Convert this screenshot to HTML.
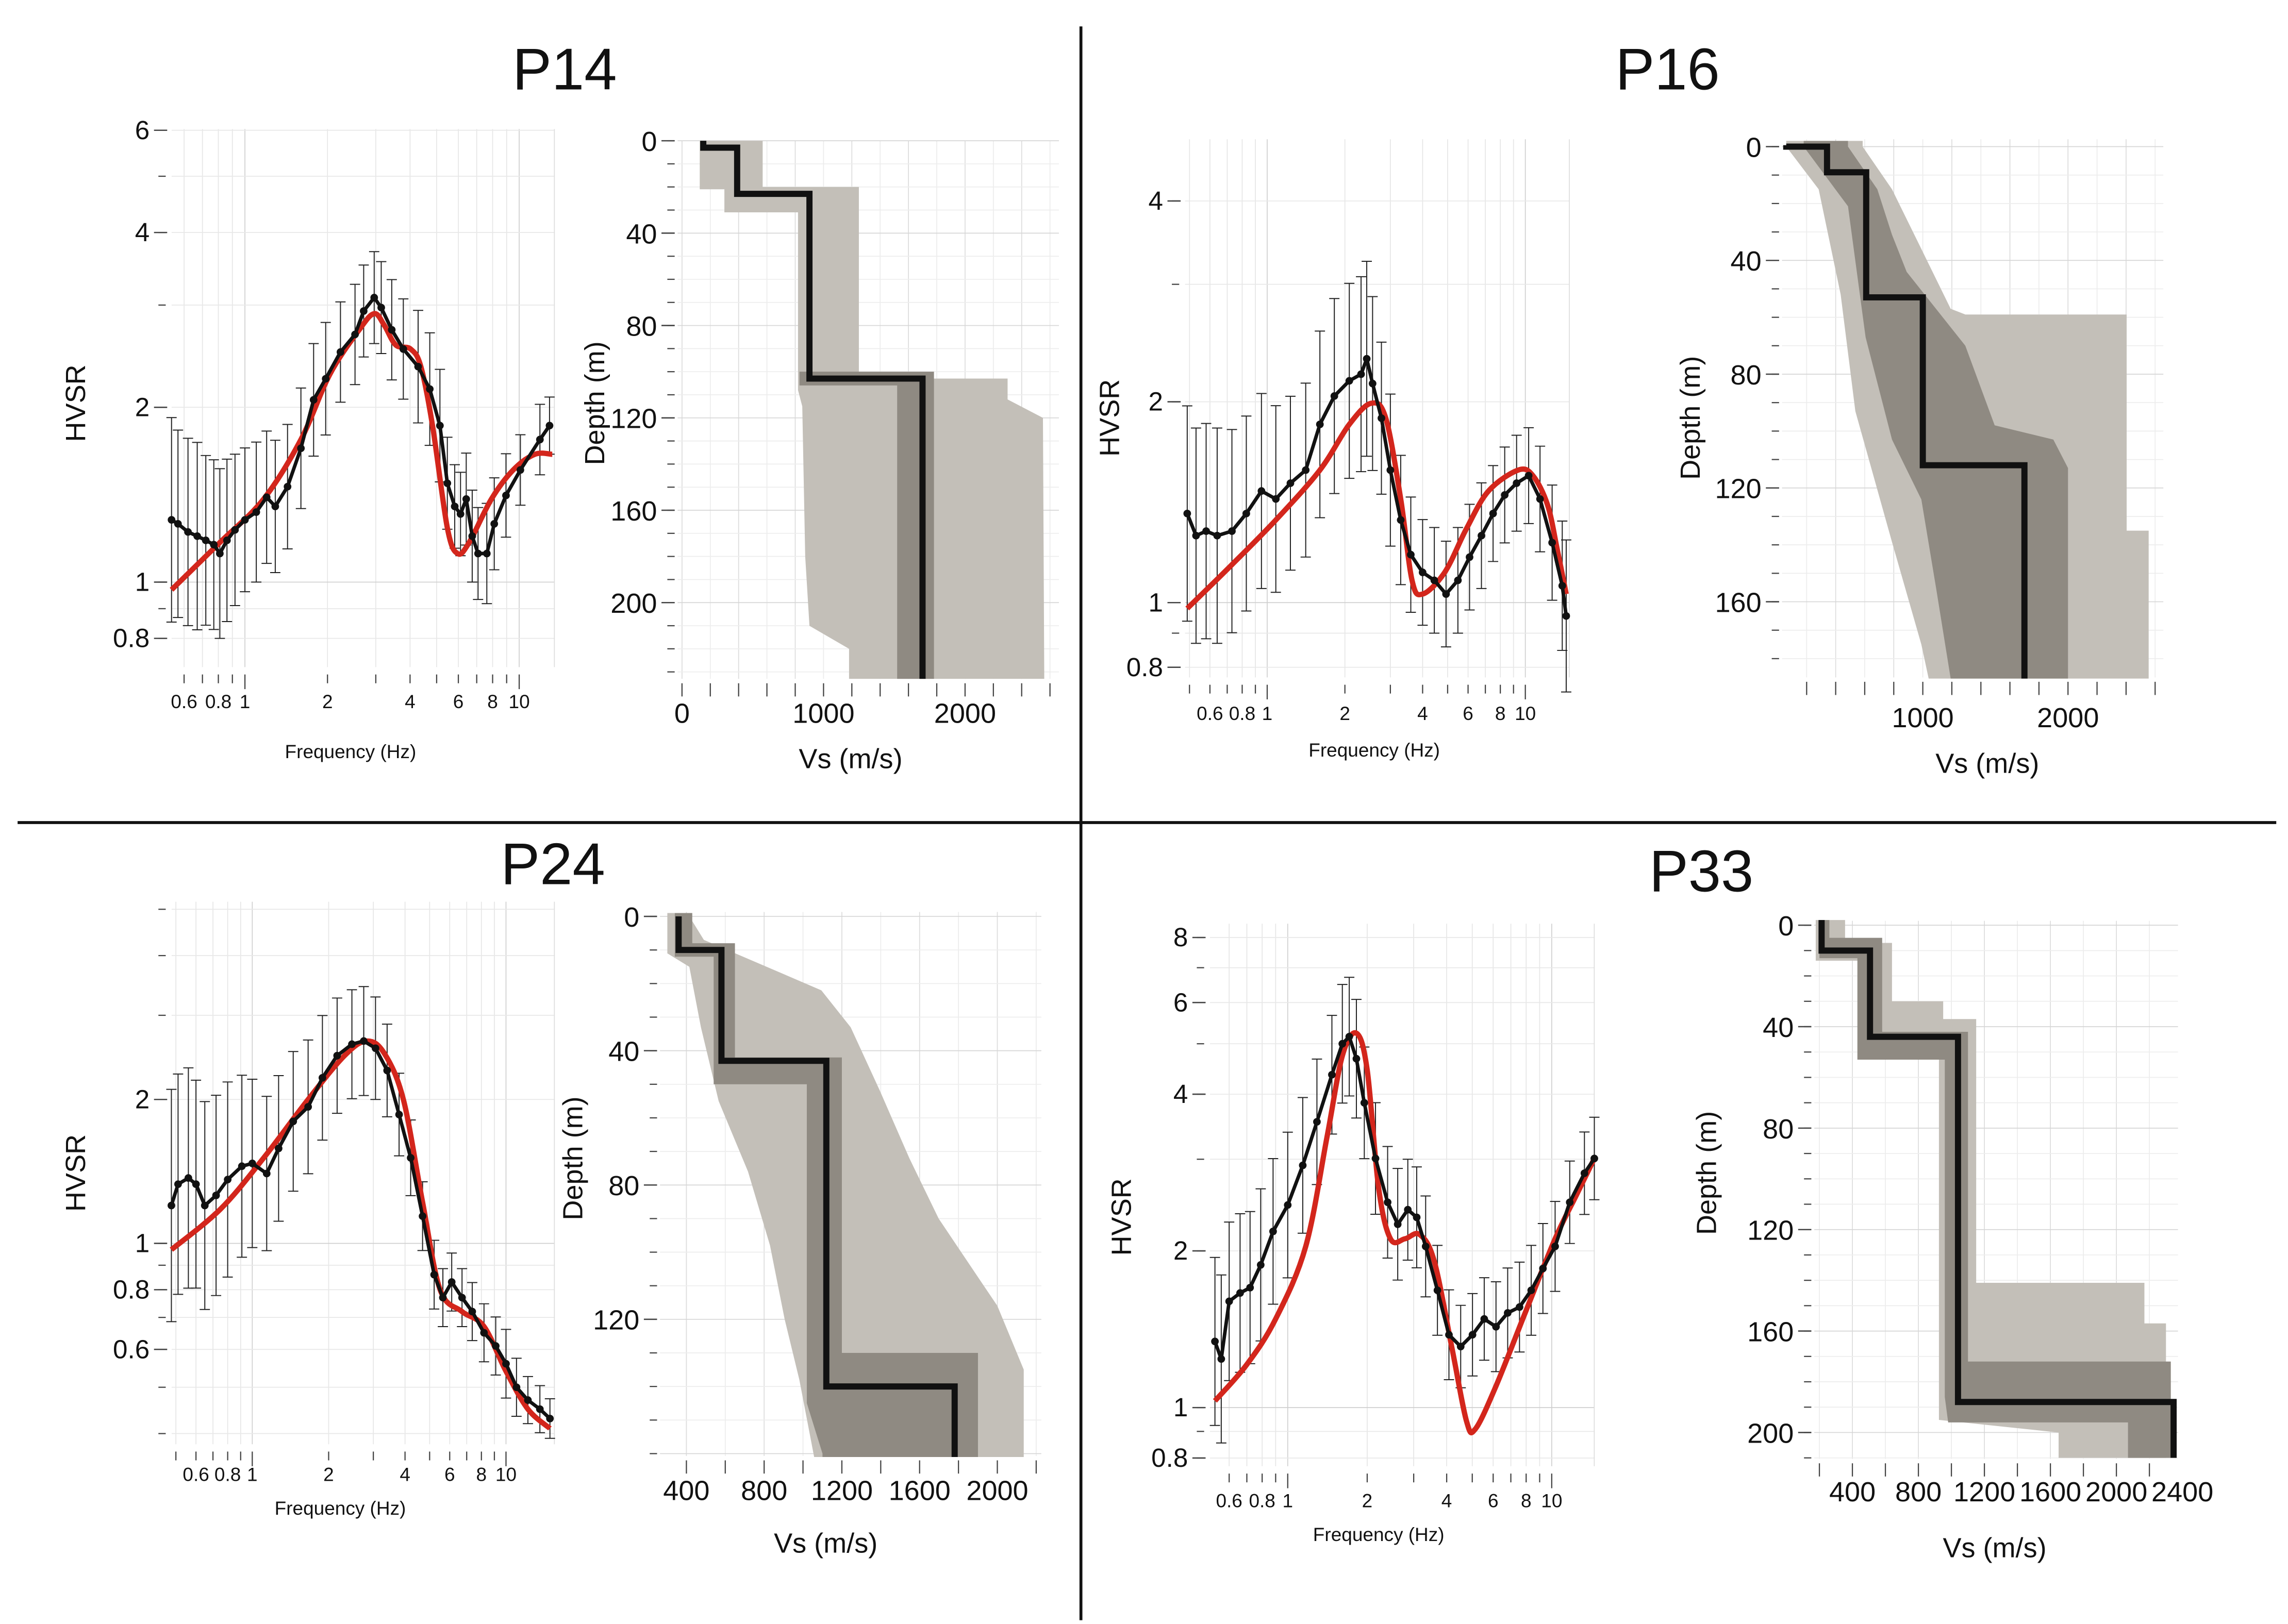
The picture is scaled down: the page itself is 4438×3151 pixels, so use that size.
<!DOCTYPE html>
<html><head><meta charset="utf-8">
<style>
html,body{margin:0;padding:0;background:#fff;}
svg{display:block;}
text{font-family:"Liberation Sans",sans-serif;fill:#111;}
</style></head>
<body>
<svg id="fig" xmlns="http://www.w3.org/2000/svg" width="4438" height="3151" viewBox="0 0 1560 1107.6" preserveAspectRatio="none">
<rect x="0" y="0" width="1560" height="1108" fill="#fff"/>
<line x1="737" y1="18" x2="737" y2="1105" stroke="#111" stroke-width="2"/>
<line x1="12" y1="561" x2="1552" y2="561" stroke="#111" stroke-width="2"/>
<text x="385" y="61" font-size="40" text-anchor="middle">P14</text>
<text x="1137" y="61" font-size="40" text-anchor="middle">P16</text>
<text x="377" y="603" font-size="40" text-anchor="middle">P24</text>
<text x="1160" y="608" font-size="40" text-anchor="middle">P33</text>
<g id="charts"></g>
</svg>
<script>
// ---------- DATA ----------
const freqTicks = [0.6, 0.8, 1, 2, 4, 6, 8, 10];

const p14Freq = [0.54,0.57,0.62,0.67,0.72,0.77,0.81,0.86,0.92,1,1.10,1.20,1.29,1.43,1.60,1.78,1.97,2.23,2.52,2.71,2.96,3.14,3.43,3.78,4.28,4.72,5.14,5.47,5.82,6.11,6.41,6.74,7.08,7.62,8.11,8.95,10.1,11.9,12.9];
const p14Hvsr = [1.28,1.26,1.22,1.20,1.18,1.16,1.12,1.18,1.23,1.28,1.32,1.40,1.35,1.46,1.70,2.06,2.24,2.49,2.67,2.93,3.09,2.97,2.72,2.52,2.35,2.15,1.86,1.48,1.35,1.31,1.39,1.20,1.12,1.12,1.26,1.41,1.56,1.76,1.86];
const p14Err = [1.5,1.45,1.45,1.45,1.4,1.4,1.4,1.38,1.35,1.33,1.32,1.3,1.3,1.28,1.27,1.25,1.25,1.22,1.22,1.2,1.2,1.2,1.22,1.22,1.25,1.25,1.25,1.2,1.18,1.18,1.2,1.2,1.2,1.22,1.2,1.18,1.15,1.15,1.12];
const p14RedFreq = [0.54,0.81,1.17,1.60,2.04,2.61,2.96,3.22,3.55,4.02,4.38,4.83,5.47,5.96,6.57,7.92,9.51,11.4,13.2];
const p14RedHvsr = [0.97,1.17,1.39,1.76,2.28,2.72,2.90,2.77,2.56,2.52,2.35,1.86,1.24,1.12,1.17,1.39,1.56,1.66,1.66];
const p14YTicks = [0.8,1,2,4,6];
const p14VsTicks = [0,1000,2000];
const p14DepthTicks = [0,40,80,120,160,200];
const p14LayerVs = [150,390,900,1700];
const p14LayerTop = [0,3,23,103];
const p14LayerBottom = 233;
const p14LightLeft = [[125,0],[125,21],[300,21],[300,31],[820,31],[820,108],[850,115],[870,180],[900,210],[1180,220],[1180,233]];
const p14LightRight = [[570,0],[570,20],[1250,20],[1250,103],[2300,103],[2300,112],[2550,120],[2560,233]];
const p14DarkLeft = [[830,100],[830,106],[1520,106],[1520,233]];
const p14DarkRight = [[1000,100],[1780,100],[1780,233]];

const p16Freq = [0.49,0.53,0.58,0.64,0.73,0.83,0.95,1.08,1.23,1.41,1.60,1.82,2.08,2.31,2.43,2.56,2.77,3.00,3.29,3.60,4.00,4.44,4.93,5.48,6.08,6.76,7.50,8.32,9.25,10.3,11.4,12.7,13.9,14.4];
const p16Hvsr = [1.36,1.26,1.28,1.26,1.28,1.36,1.47,1.43,1.51,1.58,1.85,2.04,2.15,2.20,2.32,2.13,1.89,1.58,1.33,1.18,1.11,1.08,1.03,1.08,1.17,1.26,1.36,1.45,1.51,1.55,1.43,1.23,1.06,0.955];
const p16Err = [1.45,1.45,1.45,1.45,1.42,1.4,1.4,1.38,1.35,1.35,1.38,1.4,1.4,1.4,1.4,1.35,1.3,1.3,1.25,1.22,1.2,1.2,1.2,1.2,1.2,1.2,1.18,1.18,1.18,1.18,1.2,1.22,1.25,1.3];
const p16RedFreq = [0.49,0.73,1.08,1.60,2.08,2.53,2.88,3.29,3.64,4.00,4.87,5.91,7.20,9.38,10.7,12.2,13.3,14.4];
const p16RedHvsr = [0.98,1.14,1.33,1.58,1.85,1.99,1.89,1.43,1.08,1.03,1.11,1.29,1.47,1.58,1.55,1.40,1.20,1.03];
const p16YTicks = [0.8,1,2,4];
const p16VsTicks = [1000,2000];
const p16DepthTicks = [0,40,80,120,160];
const p16LayerVs = [60,340,610,1000,1700];
const p16LayerTop = [-0.5,0,9,53,112];
const p16LayerBottom = 187;
const p16LightLeft = [[60,-2],[60,0],[283,15],[434,52],[535,93],[788,139],[990,175],[1040,187]];
const p16LightRight = [[586,-2],[586,0],[788,15],[990,36],[1192,57],[1293,59],[2404,59],[2404,135],[2556,135],[2556,187]];
const p16DarkLeft = [[180,-2],[180,0],[485,21],[606,67],[788,103],[990,124],[1091,155],[1192,187]];
const p16DarkRight = [[485,-2],[485,0],[687,15],[788,31],[889,44],[1293,70],[1495,98],[1899,103],[2000,113],[2000,187]];

const p24Freq = [0.48,0.51,0.56,0.60,0.65,0.72,0.80,0.91,1,1.14,1.27,1.45,1.66,1.89,2.16,2.47,2.75,3.06,3.40,3.79,4.21,4.69,5.21,5.64,6.11,6.71,7.36,8.19,9.11,10.0,11.0,12.2,13.6,14.9];
const p24Hvsr = [1.20,1.33,1.37,1.33,1.20,1.26,1.36,1.45,1.47,1.40,1.58,1.80,1.93,2.22,2.47,2.61,2.65,2.56,2.30,1.86,1.51,1.14,0.86,0.77,0.83,0.77,0.72,0.65,0.61,0.56,0.50,0.47,0.45,0.43];
const p24Err = [1.75,1.7,1.7,1.65,1.65,1.62,1.6,1.55,1.5,1.45,1.42,1.4,1.38,1.35,1.32,1.3,1.3,1.28,1.25,1.22,1.2,1.18,1.18,1.15,1.15,1.15,1.15,1.15,1.15,1.18,1.15,1.12,1.12,1.1];
const p24RedFreq = [0.48,0.75,1.11,1.66,2.31,2.82,3.31,3.94,4.69,5.50,6.71,8.19,10.0,12.2,14.9];
const p24RedHvsr = [0.97,1.18,1.51,2.00,2.47,2.65,2.50,2.00,1.22,0.80,0.72,0.67,0.54,0.45,0.41];
const p24YTicks = [0.6,0.8,1,2];
const p24VsTicks = [400,800,1200,1600,2000];
const p24DepthTicks = [0,40,80,120];
const p24LayerVs = [360,580,1120,1780];
const p24LayerTop = [0,10,43,140];
const p24LayerBottom = 161;
const p24LightLeft = [[302,-1],[302,11],[415,15],[475,33],[566,55],[717,76],[830,98],[906,120],[981,138],[1057,161]];
const p24LightRight = [[415,-1],[415,0],[490,7],[1094,22],[1245,33],[1396,52],[1547,72],[1698,90],[1849,103],[2000,116],[2136,135],[2136,161]];
const p24DarkLeft = [[340,-1],[340,12],[540,12],[540,50],[1020,50],[1020,145],[1100,160],[1100,161]];
const p24DarkRight = [[430,-1],[430,8],[650,8],[650,42],[1200,42],[1200,130],[1900,130],[1900,161]];

const p33Freq = [0.53,0.56,0.60,0.66,0.72,0.79,0.88,1,1.14,1.29,1.47,1.61,1.71,1.82,1.95,2.15,2.39,2.61,2.85,3.08,3.33,3.69,4.08,4.52,5.01,5.55,6.15,6.81,7.55,8.36,9.26,10.3,11.7,13.3,14.5];
const p33Hvsr = [1.34,1.24,1.60,1.66,1.70,1.88,2.18,2.45,2.92,3.54,4.36,5.00,5.16,4.68,3.85,3.01,2.48,2.25,2.40,2.32,2.04,1.68,1.38,1.31,1.38,1.48,1.43,1.52,1.56,1.68,1.85,2.04,2.48,2.82,3.01];
const p33Err = [1.45,1.45,1.42,1.42,1.4,1.4,1.38,1.38,1.35,1.32,1.3,1.3,1.3,1.3,1.28,1.28,1.28,1.28,1.25,1.25,1.25,1.22,1.22,1.2,1.2,1.2,1.22,1.22,1.22,1.22,1.22,1.22,1.2,1.2,1.2];
const p33RedFreq = [0.53,0.70,0.90,1.17,1.41,1.61,1.82,2.00,2.21,2.45,2.78,3.16,3.59,4.19,4.76,5.14,6.15,7.93,10.3,12.4,14.5];
const p33RedHvsr = [1.03,1.21,1.48,2.04,3.32,4.74,5.24,4.45,2.64,2.11,2.11,2.15,1.91,1.30,0.94,0.91,1.10,1.52,2.11,2.56,3.01];
const p33YTicks = [0.8,1,2,4,6,8];
const p33VsTicks = [400,800,1200,1600,2000,2400];
const p33DepthTicks = [0,40,80,120,160,200];
const p33LayerVs = [213,507,1040,2347];
const p33LayerTop = [-2,10,44,188];
const p33LayerBottom = 210;
const p33LightLeft = [[178,-2],[178,14],[480,14],[480,51],[924,51],[924,195],[1650,200],[1650,210]];
const p33LightRight = [[356,-2],[356,7],[640,7],[640,30],[950,30],[950,37],[1150,37],[1150,141],[2170,141],[2170,157],[2300,157],[2300,210]];
const p33DarkLeft = [[200,-2],[200,13],[430,13],[430,53],[960,53],[960,186],[980,196],[2070,196],[2070,210]];
const p33DarkRight = [[260,-2],[260,5],[580,5],[580,42],[1100,42],[1100,172],[2330,172],[2330,210]];

// ---------- LAYOUT (positions only) ----------
const NS = "http://www.w3.org/2000/svg";
const root = document.getElementById('charts');
function mk(tag, attrs, parent) {
  const e = document.createElementNS(NS, tag);
  for (const k in attrs) e.setAttribute(k, attrs[k]);
  (parent || root).appendChild(e);
  return e;
}
function smoothPath(pts) {
  let d = "M" + pts[0][0].toFixed(2) + "," + pts[0][1].toFixed(2);
  for (let i = 0; i < pts.length - 1; i++) {
    const p0 = pts[i - 1] || pts[i], p1 = pts[i], p2 = pts[i + 1], p3 = pts[i + 2] || p2;
    const c1 = [p1[0] + (p2[0] - p0[0]) / 6, p1[1] + (p2[1] - p0[1]) / 6];
    const c2 = [p2[0] - (p3[0] - p1[0]) / 6, p2[1] - (p3[1] - p1[1]) / 6];
    d += " C" + c1.map(v=>v.toFixed(2)).join(",") + " " + c2.map(v=>v.toFixed(2)).join(",") + " " + p2[0].toFixed(2) + "," + p2[1].toFixed(2);
  }
  return d;
}

function hvsrChart(id, L, freq, hv, err, rf, rv, yTicks) {
  const g = mk('g', {});
  
  
  const xs = f => L.x1 + Math.log10(f) * L.kx;
  const ys = v => L.y1 - Math.log10(v) * L.ky;
  // grid
  const grid = mk('g', {stroke: '#e4e4e4', 'stroke-width': 0.6}, g);
  
  
  for (let dec = 0.1; dec <= 10; dec *= 10) for (let m = 1; m < 10; m++) {
    const f = dec * m, x = xs(f);
    if (x >= L.left && x <= L.right) mk('line', {x1: x, y1: L.top, x2: x, y2: L.bottom, stroke: m === 1 ? '#cfcfcf' : '#e6e6e6'}, grid);
  }
  for (let dec = 0.1; dec <= 10; dec *= 10) for (let m = 1; m < 10; m++) {
    const v = dec * m, y = ys(v);
    if (y >= L.top && y <= L.bottom) mk('line', {x1: L.left, y1: y, x2: L.right, y2: y, stroke: m === 1 ? '#cfcfcf' : '#e8e8e8'}, grid);
  }
  mk('line', {x1: L.right, y1: L.top, x2: L.right, y2: L.bottom, stroke: '#ddd', 'stroke-width': 0.6}, g);
  // y ticks
  for (let dec = 0.1; dec <= 10; dec *= 10) for (let m = 1; m < 10; m++) {
    const y = ys(dec * m);
    if (y >= L.top - 1 && y <= L.bottom) mk('line', {x1: L.left - 9, y1: y, x2: L.left - 4, y2: y, stroke: '#444', 'stroke-width': 0.8}, g);
  }
  yTicks.forEach(v => {
    const y = ys(v);
    mk('line', {x1: L.left - 12, y1: y, x2: L.left - 3, y2: y, stroke: '#444', 'stroke-width': 0.9}, g);
    const t = mk('text', {x: L.left - 15, y: y + 6, 'font-size': 18, 'text-anchor': 'end'}, g);
    
    
    t.textContent = String(v);
  });
  // x ticks
  for (let dec = 0.1; dec <= 10; dec *= 10) for (let m = 1; m < 10; m++) {
    const x = xs(dec * m);
    if (x >= L.left - 1 && x <= L.right + 1) mk('line', {x1: x, y1: L.bottom + 5, x2: x, y2: L.bottom + (m === 1 ? 15 : 11), stroke: '#444', 'stroke-width': 0.8}, g);
  }
  freqTicks.forEach(f => {
    const t = mk('text', {x: xs(f), y: L.xlab, 'font-size': 13, 'text-anchor': 'middle'}, g);
    
    
    t.textContent = String(f);
  });
  const xt = mk('text', {x: L.ftx, y: L.fty, 'font-size': 13, 'text-anchor': 'middle'}, g);
  
  
  xt.textContent = 'Frequency (Hz)';
  const yt = mk('text', {x: L.htx, y: L.hty, 'font-size': 19, 'text-anchor': 'middle', transform: 'rotate(-90 ' + L.htx + ' ' + L.hty + ')'}, g);
  
  
  yt.textContent = 'HVSR';
  // error bars
  const eb = mk('g', {stroke: '#222', 'stroke-width': 0.7}, g);
  
  
  freq.forEach((f, i) => {
    const e = err[i] || 1.2, x = xs(f);
    const yTop = ys(hv[i] * e), yBot = ys(hv[i] / e);
    mk('line', {x1: x, y1: yTop, x2: x, y2: yBot}, eb);
    mk('line', {x1: x - 3.5, y1: yTop, x2: x + 3.5, y2: yTop}, eb);
    mk('line', {x1: x - 3.5, y1: yBot, x2: x + 3.5, y2: yBot}, eb);
  });
  // red curve
  const red = mk('path', {d: smoothPath(rf.map((f, i) => [xs(f), ys(rv[i])])), fill: 'none', stroke: '#d3261c', 'stroke-width': 3.6, 'stroke-linejoin': 'round'}, g);
  
  
  // black curve
  const blk = mk('path', {d: freq.map((f, i) => (i ? 'L' : 'M') + xs(f).toFixed(2) + ',' + ys(hv[i]).toFixed(2)).join(' '), fill: 'none', stroke: '#111', 'stroke-width': 2.4, 'stroke-linejoin': 'round'}, g);
  
  
  freq.forEach((f, i) => {
    const c = mk('circle', {cx: xs(f), cy: ys(hv[i]), r: 2.6, fill: '#111'}, g);
    
    
  });
}

function vsChart(id, L, vsTicks, dTicks, lvs, ltop, lbot, lightL, lightR, darkL, darkR) {
  const g = mk('g', {});
  
  
  const xv = v => L.x0 + v * L.kx;
  const yd = d => L.y0 + d * L.ky;
  const grid = mk('g', {'stroke-width': 0.6}, g);
  
  
  for (let v = 0; v <= 3000; v += L.gx) { const x = xv(v); if (x >= L.left && x <= L.right) mk('line', {x1: x, y1: L.top, x2: x, y2: L.bottom, stroke: (v % (L.gx*2) === 0) ? '#dcdcdc' : '#ececec'}, grid); }
  for (let d = 0; d <= 260; d += 10) { const y = yd(d); if (y >= L.top && y <= L.bottom) mk('line', {x1: L.left, y1: y, x2: L.right, y2: y, stroke: d % 40 === 0 ? '#d6d6d6' : '#ededed'}, grid); }
  const poly = (lft, rgt, fill, name) => {
    const pts = lft.map(p => [xv(p[0]), yd(p[1])]).concat(rgt.slice().reverse().map(p => [xv(p[0]), yd(p[1])]));
    const p = mk('polygon', {points: pts.map(q => q[0].toFixed(1) + ',' + q[1].toFixed(1)).join(' '), fill: fill}, g);
    
    
  };
  poly(lightL, lightR, '#c3bfb8', id + '-light-envelope');
  poly(darkL, darkR, '#8f8a82', id + '-dark-envelope');
  // axis ticks
  for (let d = 0; d <= 260; d += 10) { const y = yd(d); if (y >= L.top - 1 && y <= L.bottom) mk('line', {x1: L.left - 7, y1: y, x2: L.left - 2, y2: y, stroke: '#444', 'stroke-width': 0.8}, g); }
  for (let v = 0; v <= 3000; v += L.gx) { const x = xv(v); if (x >= L.left - 1 && x <= L.right + 1) mk('line', {x1: x, y1: L.bottom + 3, x2: x, y2: L.bottom + 12, stroke: '#444', 'stroke-width': 0.8}, g); }
  dTicks.forEach(d => {
    const y = yd(d);
    mk('line', {x1: L.left - 11, y1: y, x2: L.left - 2, y2: y, stroke: '#444', 'stroke-width': 0.9}, g);
    const t = mk('text', {x: L.left - 14, y: y + 7, 'font-size': 19, 'text-anchor': 'end'}, g);
    
    
    t.textContent = String(d);
  });
  vsTicks.forEach(v => {
    const t = mk('text', {x: xv(v), y: L.xlab, 'font-size': 19, 'text-anchor': 'middle'}, g);
    
    
    t.textContent = String(v);
  });
  const xt = mk('text', {x: L.vtx, y: L.vty, 'font-size': 19, 'text-anchor': 'middle'}, g);
  
  
  xt.textContent = 'Vs (m/s)';
  const yt = mk('text', {x: L.dtx, y: L.dty, 'font-size': 19, 'text-anchor': 'middle', transform: 'rotate(-90 ' + L.dtx + ' ' + L.dty + ')'}, g);
  
  
  yt.textContent = 'Depth (m)';
  // black profile
  let d = '';
  lvs.forEach((v, i) => {
    const t = ltop[i], b = i < lvs.length - 1 ? ltop[i + 1] : lbot;
    d += (i ? ' L' : 'M') + xv(v).toFixed(1) + ',' + yd(t).toFixed(1) + ' L' + xv(v).toFixed(1) + ',' + yd(b).toFixed(1);
  });
  const p = mk('path', {d: d, fill: 'none', stroke: '#111', 'stroke-width': 4.2, 'stroke-linejoin': 'miter'}, g);
  
  
}

hvsrChart('p14', {left:117,right:378,top:88,bottom:455,x1:167,kx:187,y1:397,ky:396,xlab:483,ftx:239,fty:517,htx:58,hty:275}, p14Freq, p14Hvsr, p14Err, p14RedFreq, p14RedHvsr, p14YTicks);
hvsrChart('p16', {left:808,right:1070,top:95,bottom:462,x1:864,kx:176,y1:411,ky:455,xlab:491,ftx:937,fty:516,htx:763,hty:285}, p16Freq, p16Hvsr, p16Err, p16RedFreq, p16RedHvsr, p16YTicks);
hvsrChart('p24', {left:117,right:378,top:615,bottom:985,x1:172,kx:173,y1:848,ky:326,xlab:1010,ftx:232,fty:1033,htx:58,hty:800}, p24Freq, p24Hvsr, p24Err, p24RedFreq, p24RedHvsr, p24YTicks);
hvsrChart('p33', {left:825,right:1087,top:630,bottom:1000,x1:878,kx:180,y1:960,ky:355,xlab:1028,ftx:940,fty:1051,htx:771,hty:830}, p33Freq, p33Hvsr, p33Err, p33RedFreq, p33RedHvsr, p33YTicks);

vsChart('p14', {left:462,right:722,top:96,bottom:463,x0:465,kx:0.0965,y0:96,ky:1.575,gx:200,xlab:493,vtx:580,vty:524,dtx:412,dty:275}, p14VsTicks, p14DepthTicks, p14LayerVs, p14LayerTop, p14LayerBottom, p14LightLeft, p14LightRight, p14DarkLeft, p14DarkRight);
vsChart('p16', {left:1215,right:1475,top:95,bottom:462,x0:1212,kx:0.099,y0:100,ky:1.94,gx:200,xlab:496,vtx:1355,vty:527,dtx:1159,dty:285}, p16VsTicks, p16DepthTicks, p16LayerVs, p16LayerTop, p16LayerBottom, p16LightLeft, p16LightRight, p16DarkLeft, p16DarkRight);
vsChart('p24', {left:450,right:710,top:622,bottom:993,x0:415,kx:0.1325,y0:625,ky:2.29,gx:200,xlab:1023,vtx:563,vty:1059,dtx:397,dty:790}, p24VsTicks, p24DepthTicks, p24LayerVs, p24LayerTop, p24LayerBottom, p24LightLeft, p24LightRight, p24DarkLeft, p24DarkRight);
vsChart('p33', {left:1237,right:1485,top:628,bottom:995,x0:1218,kx:0.1125,y0:631,ky:1.73,gx:200,xlab:1024,vtx:1360,vty:1062,dtx:1170,dty:800}, p33VsTicks, p33DepthTicks, p33LayerVs, p33LayerTop, p33LayerBottom, p33LightLeft, p33LightRight, p33DarkLeft, p33DarkRight);
</script>
</body></html>
